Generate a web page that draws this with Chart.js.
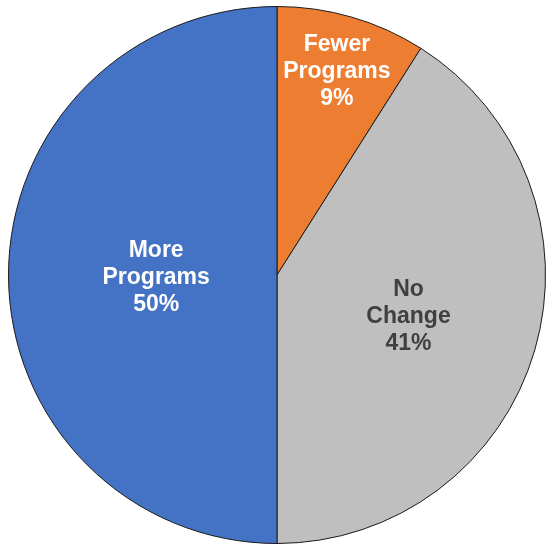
<!DOCTYPE html>
<html>
<head>
<meta charset="utf-8">
<script src="https://cdn.jsdelivr.net/npm/chart.js@4"></script>
<style>
  html, body { margin: 0; padding: 0; background: #fff; }
  #wrap { width: 546px; height: 547px; }
</style>
</head>
<body>
<div id="wrap"><canvas id="canvas"></canvas></div>
<script>
// survey answers, clockwise from 12 o'clock
let labels = [['Fewer', 'Programs'], ['No', 'Change'], ['More', 'Programs']];
let values = [9, 41, 50];
let colors = ['#ED7D31', '#BFBFBF', '#4472C4'];
let textColors = ['#ffffff', '#404040', '#ffffff'];

// how far out each label sits, as a share of the radius
let labelRadius = [0.8, 0.51, 0.45];

// draws the bold labels inside the slices
let sliceLabels = {
  id: 'sliceLabels',
  afterDatasetsDraw(chart) {
    let ctx = chart.ctx;
    let meta = chart.getDatasetMeta(0);
    ctx.save();
    ctx.font = 'bold 23px "Liberation Sans", Arial, sans-serif';
    ctx.textAlign = 'center';
    ctx.textBaseline = 'middle';
    meta.data.forEach(function(arc, i) {
      let mid = (arc.startAngle + arc.endAngle) / 2;
      let r = arc.outerRadius * labelRadius[i];
      let x = arc.x + Math.cos(mid) * r;
      let y = arc.y + Math.sin(mid) * r + 3;
      let lines = labels[i].concat([values[i] + '%']);
      let lh = 27;
      let y0 = y - (lines.length - 1) * lh / 2;
      ctx.fillStyle = textColors[i];
      lines.forEach(function(t, j) {
        ctx.fillText(t, x, y0 + j * lh);
      });
    });
    ctx.restore();
  }
};

new Chart(document.getElementById('canvas'), {
  type: 'pie',
  data: {
    labels: labels.map(l => l.join(' ')),
    datasets: [{
      data: values,
      backgroundColor: colors,
      borderColor: '#1a1a1a',
      borderWidth: 1
    }]
  },
  options: {
    responsive: true,
    maintainAspectRatio: false,
    animation: false,
    layout: { padding: { left: 8, right: 0, top: 5, bottom: 2 } },
    plugins: {
      legend: { display: false },
      tooltip: { enabled: false }
    }
  },
  plugins: [sliceLabels]
});
</script>
</body>
</html>
